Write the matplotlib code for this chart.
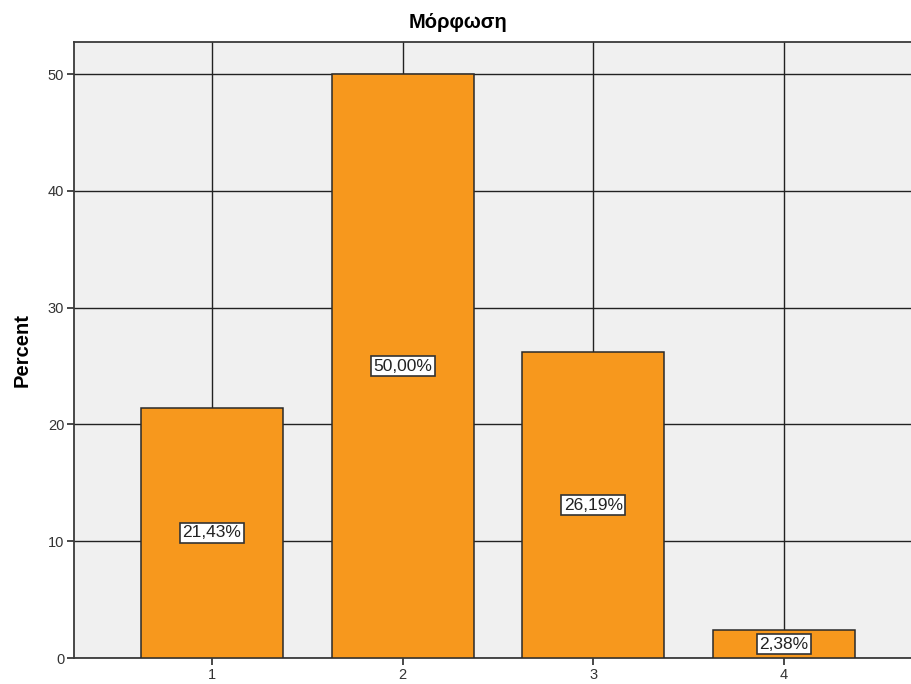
import matplotlib
matplotlib.use("Agg")
import matplotlib.pyplot as plt

categories = [1, 2, 3, 4]
percent = [21.43, 50.00, 26.19, 2.38]
labels = ["21,43%", "50,00%", "26,19%", "2,38%"]
yticks = [0, 10, 20, 30, 40, 50]

plt.rcParams['font.family'] = ['Liberation Sans', 'DejaVu Sans']

fig = plt.figure(figsize=(9.11, 6.84), dpi=100)
ax = fig.add_axes([74/911, 26/684, 1 - 74/911, (658-42)/684])
ax.set_facecolor('#f0f0f0')

ax.bar(categories, percent, width=0.745, color='#f7981d', edgecolor='#2a2a2a', linewidth=1.1, zorder=3)
for x, v, s in zip(categories, percent, labels):
    ax.text(x, v/2, s, ha='center', va='center', fontsize=12.5, color='#222222', zorder=4,
            bbox=dict(boxstyle='square,pad=0.14', facecolor='white', edgecolor='#333333', linewidth=1.2))

ax.set_xlim(0.276, 4.666)
ax.set_ylim(0, 52.74)
ax.set_xticks(categories)
ax.set_yticks(yticks)
ax.grid(True, color='#222222', linewidth=1.0, zorder=1)
ax.set_axisbelow(True)
for side in ['left', 'top', 'bottom']:
    ax.spines[side].set_color('#3a3a3a')
    ax.spines[side].set_linewidth(1.3)
ax.spines['right'].set_visible(False)
ax.tick_params(axis='both', direction='out', length=5, width=1.3, color='#3a3a3a',
               labelsize=10.5, labelcolor='#333333', pad=2)
ax.set_ylabel('Percent', fontsize=14.5, fontweight='bold', labelpad=12)
ax.set_title('Μόρφωση', fontsize=14.5, fontweight='bold', pad=10, x=0.459)

fig.savefig('out.png', dpi=100)
